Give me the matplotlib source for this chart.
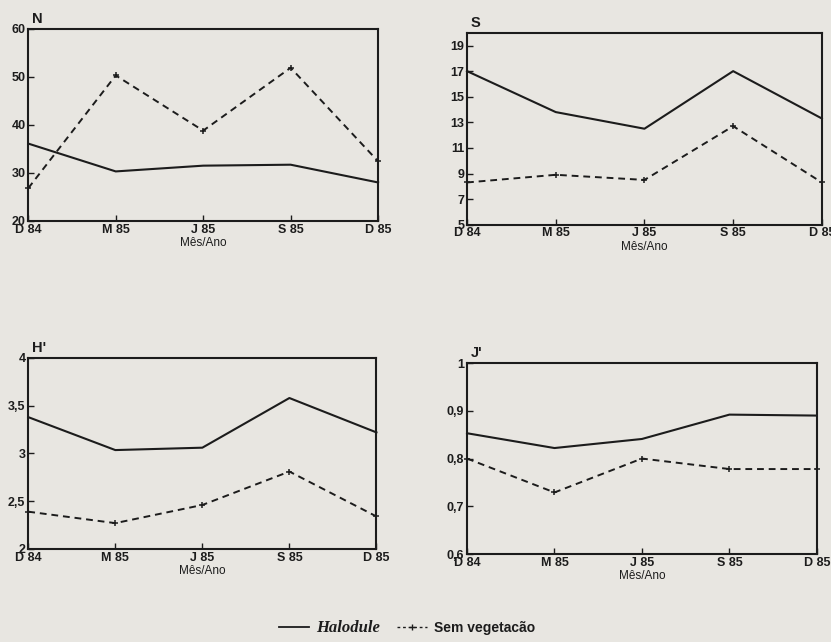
"""Variacao temporal de N, S, H' e J' (Halodule x sem vegetacao)."""
import matplotlib
matplotlib.use("Agg")
import matplotlib.pyplot as plt
from matplotlib.lines import Line2D

MONTHS = ["D 84", "M 85", "J 85", "S 85", "D 85"]

N_HALODULE = [36.1, 30.3, 31.5, 31.7, 28.0]
N_SEM_VEG = [26.8, 50.3, 38.8, 51.9, 32.4]

S_HALODULE = [17.0, 13.8, 12.5, 17.0, 13.3]
S_SEM_VEG = [8.3, 8.9, 8.5, 12.7, 8.3]

H_HALODULE = [3.38, 3.035, 3.06, 3.58, 3.22]
H_SEM_VEG = [2.39, 2.27, 2.46, 2.81, 2.34]

J_HALODULE = [0.853, 0.822, 0.841, 0.892, 0.890]
J_SEM_VEG = [0.800, 0.729, 0.800, 0.778, 0.778]

N_TICKS = [20, 30, 40, 50, 60]
S_TICKS = [5, 7, 9, 11, 13, 15, 17, 19]
H_TICKS = [2, 2.5, 3, 3.5, 4]
H_TICKLABELS = ["2", "2,5", "3", "3,5", "4"]
J_TICKS = [0.6, 0.7, 0.8, 0.9, 1.0]
J_TICKLABELS = ["0,6", "0,7", "0,8", "0,9", "1"]

BG = "#e8e6e1"
INK = "#1c1c1c"
SANS = "Liberation Sans"

plt.rcParams["font.family"] = SANS
plt.rcParams["font.weight"] = "bold"

fig = plt.figure(figsize=(8.31, 6.42), dpi=100, facecolor=BG)

panels = [
    ("N", [0.034, 0.656, 0.421, 0.299], N_HALODULE, N_SEM_VEG, (20, 60), N_TICKS, [str(t) for t in N_TICKS]),
    ("S", [0.562, 0.650, 0.427, 0.299], S_HALODULE, S_SEM_VEG, (5, 20), S_TICKS, [str(t) for t in S_TICKS]),
    ("H'", [0.034, 0.145, 0.419, 0.2975], H_HALODULE, H_SEM_VEG, (2, 4), H_TICKS, H_TICKLABELS),
    ("J'", [0.562, 0.137, 0.421, 0.2975], J_HALODULE, J_SEM_VEG, (0.6, 1.0), J_TICKS, J_TICKLABELS),
]

x = list(range(len(MONTHS)))
for name, rect, hal, sem, ylim, yt, ytl in panels:
    ax = fig.add_axes(rect)
    ax.set_facecolor(BG)
    ax.plot(x, hal, color=INK, lw=1.5, clip_on=False)
    ax.plot(x, sem, color=INK, lw=1.4, ls=(0, (3.5, 2.5)), marker="+",
            ms=5, mew=1.1, clip_on=False)
    ax.set_xlim(0, len(MONTHS) - 1)
    ax.set_ylim(*ylim)
    ax.set_xticks(x)
    ax.set_xticklabels(MONTHS)
    ax.set_yticks(yt)
    ax.set_yticklabels(ytl)
    ax.tick_params(direction="in", length=4, width=1.0, color=INK,
                   labelsize=9, labelcolor=INK, pad=2)
    for s in ax.spines.values():
        s.set_color(INK)
        s.set_linewidth(1.5)
    ax.set_xlabel("Mês/Ano", fontsize=8.5, color=INK, labelpad=1)
    ax.text(0.01, 1.015, name, transform=ax.transAxes, fontsize=10.5,
            fontweight="bold", color=INK, ha="left", va="bottom")

handles = [
    Line2D([], [], color=INK, lw=1.3),
    Line2D([], [], color=INK, lw=1.0, ls=(0, (2, 2)), marker="+", ms=5, mew=1.0),
]
leg = fig.legend(handles, ["Halodule", "Sem vegetacão"], loc="center",
                 bbox_to_anchor=(0.49, 0.022), ncol=2, frameon=False,
                 handlelength=2.2, handletextpad=0.5, columnspacing=1.2,
                 fontsize=10)
leg.get_texts()[0].set_fontfamily("Liberation Serif")
leg.get_texts()[0].set_fontstyle("italic")
leg.get_texts()[0].set_fontsize(12)
for t in leg.get_texts():
    t.set_color(INK)
    t.set_fontweight("bold")

fig.savefig("out.png", dpi=100, facecolor=BG)
